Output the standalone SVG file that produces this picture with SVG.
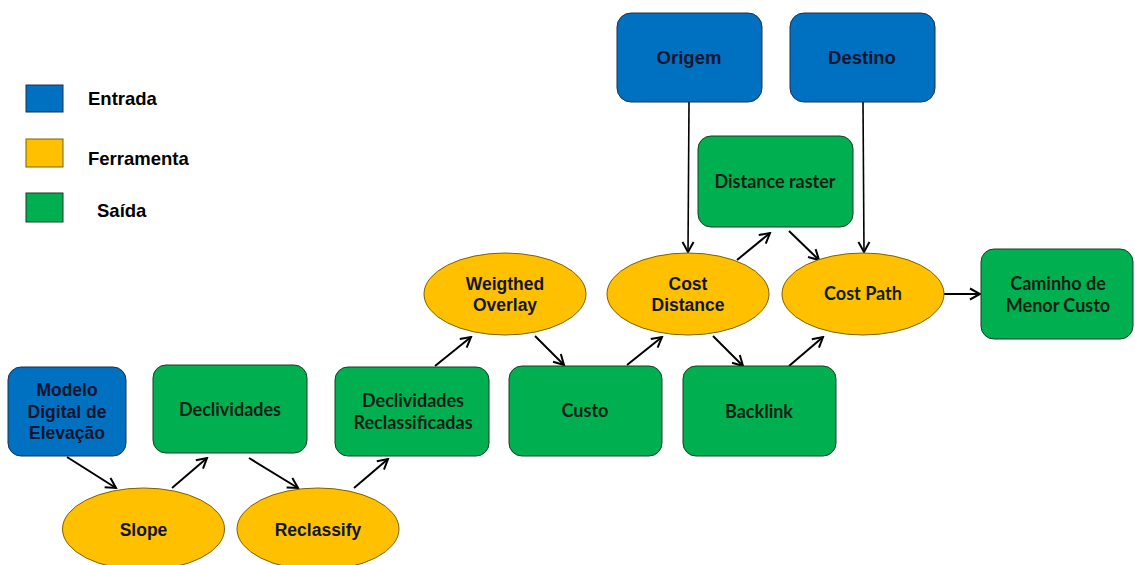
<svg xmlns="http://www.w3.org/2000/svg" width="1135" height="565" viewBox="0 0 1135 565">
<defs>
<marker id="arr" viewBox="0 0 14 14" refX="12" refY="7" markerWidth="14" markerHeight="14" markerUnits="userSpaceOnUse" orient="auto">
<path d="M2,1.5 L12,7 L2,12.5" fill="none" stroke="#000" stroke-width="2"/>
</marker>
</defs>
<style>
.blue{fill:#0070c0;stroke:#1f2f4f;stroke-width:1}
.green{fill:#00b050;stroke:#1b3b24;stroke-width:1}
.yellow{fill:#ffc000;stroke:#7f6000;stroke-width:1}
.t{font-family:"Liberation Sans",Arial,sans-serif;font-weight:bold;font-size:17.5px;fill:#121530;text-anchor:middle}
.c{font-family:Lato,"Liberation Sans",sans-serif;font-weight:bold;font-size:18px;fill:#0f1f14;text-anchor:middle}
.leg{font-family:"Liberation Sans",Arial,sans-serif;font-weight:bold;font-size:18.5px;fill:#000}
.a{fill:none;stroke:#000;stroke-width:2;marker-end:url(#arr)}
.v{fill:none;stroke:#000;stroke-width:1.6;marker-end:url(#arr)}
</style>
<rect width="1135" height="565" fill="#fff"/>
<g id="legend">
<rect x="26" y="85" width="37" height="27" class="blue"/>
<rect x="26" y="139" width="37" height="28" class="yellow"/>
<rect x="26" y="193" width="37" height="29" class="green"/>
<text x="88" y="105" class="leg">Entrada</text>
<text x="88" y="165" class="leg">Ferramenta</text>
<text x="97" y="217" class="leg">Saída</text>
</g>
<g id="connectors">
<line x1="67" y1="457" x2="116" y2="488" class="a"/>
<line x1="172" y1="488" x2="207" y2="458" class="a"/>
<line x1="249" y1="458" x2="298" y2="488" class="a"/>
<line x1="354" y1="488" x2="388" y2="459" class="a"/>
<line x1="435" y1="366" x2="471" y2="337" class="a"/>
<line x1="535" y1="336" x2="564" y2="365" class="a"/>
<line x1="627" y1="365" x2="662" y2="337" class="a"/>
<line x1="713" y1="336" x2="743" y2="366" class="a"/>
<line x1="789" y1="366" x2="823" y2="337" class="a"/>
<line x1="737" y1="260" x2="770" y2="233" class="a"/>
<line x1="789" y1="231" x2="819" y2="260" class="a"/>
<line x1="689" y1="102" x2="688" y2="252" class="v"/>
<line x1="863" y1="102" x2="864" y2="252" class="v"/>
<line x1="944" y1="294" x2="980" y2="294" class="a"/>
</g>
<g id="modelo">
<rect x="8" y="367" width="118" height="89" rx="13" class="blue"/>
<text x="67" y="396" class="t">Modelo</text>
<text x="67" y="418" class="t">Digital de</text>
<text x="67" y="439" class="t">Elevação</text>
</g>
<g id="declividades">
<rect x="153" y="365" width="154" height="88" rx="13" class="green"/>
<text x="230" y="416" class="c">Declividades</text>
</g>
<g id="declividades-reclassificadas">
<rect x="335" y="367" width="154" height="89" rx="13" class="green"/>
<text x="413" y="407" class="c">Declividades</text>
<text x="413" y="429" class="c">Reclassificadas</text>
</g>
<g id="slope">
<ellipse cx="143.5" cy="529" rx="81" ry="41" class="yellow"/>
<text x="143.5" y="536" class="t">Slope</text>
</g>
<g id="reclassify">
<ellipse cx="318" cy="529" rx="81" ry="41" class="yellow"/>
<text x="318" y="536" class="t">Reclassify</text>
</g>
<g id="weigthed-overlay">
<ellipse cx="505" cy="294" rx="81" ry="41" class="yellow"/>
<text x="505" y="290" class="t">Weigthed</text>
<text x="505" y="311" class="t">Overlay</text>
</g>
<g id="custo">
<rect x="509" y="366" width="153" height="90" rx="13" class="green"/>
<text x="585" y="417" class="c">Custo</text>
</g>
<g id="cost-distance">
<ellipse cx="688" cy="294" rx="81" ry="41" class="yellow"/>
<text x="688" y="290" class="t">Cost</text>
<text x="688" y="311" class="t">Distance</text>
</g>
<g id="backlink">
<rect x="683" y="366" width="153" height="90" rx="13" class="green"/>
<text x="759" y="418" class="c">Backlink</text>
</g>
<g id="origem">
<rect x="617" y="13" width="145" height="89" rx="14" class="blue"/>
<text x="689" y="64" class="t" style="font-size:18.5px">Origem</text>
</g>
<g id="destino">
<rect x="790" y="13" width="145" height="89" rx="14" class="blue"/>
<text x="862" y="64" class="t" style="font-size:18.5px">Destino</text>
</g>
<g id="distance-raster">
<rect x="698" y="136" width="155" height="91" rx="13" class="green"/>
<text x="775" y="188" class="c">Distance raster</text>
</g>
<g id="cost-path">
<ellipse cx="863" cy="294" rx="81" ry="41" class="yellow"/>
<text x="863" y="300" class="c">Cost Path</text>
</g>
<g id="caminho">
<rect x="981" y="249" width="152" height="90" rx="13" class="green"/>
<text x="1058" y="290" class="c">Caminho de</text>
<text x="1058" y="312" class="c">Menor Custo</text>
</g>
</svg>
